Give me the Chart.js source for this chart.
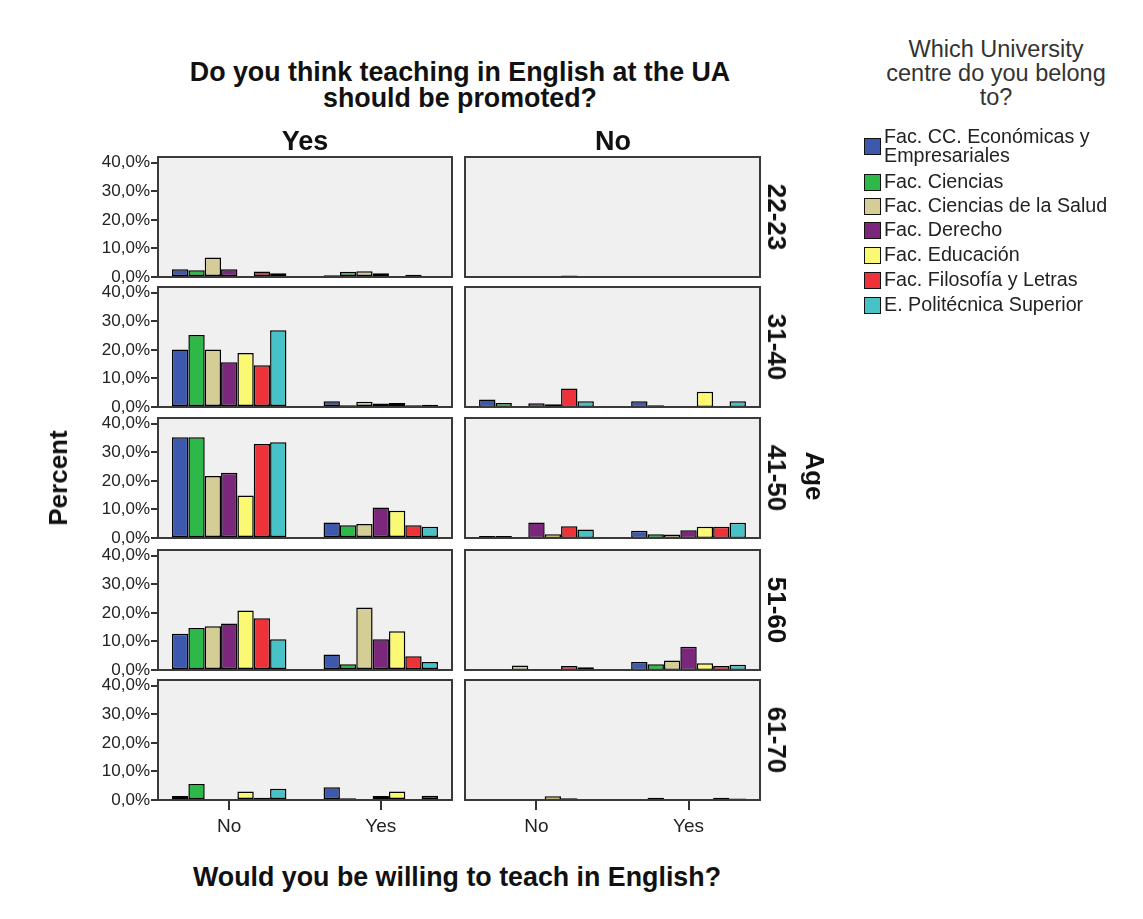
<!DOCTYPE html>
<html>
<head>
<meta charset="utf-8">
<script src="https://cdn.jsdelivr.net/npm/chart.js@4.4.0/dist/chart.umd.min.js"></script>
<style>
    body { margin: 0; background: #fff; }
    #wrap { position: relative; width: 1143px; height: 919px; background: #fff; overflow: hidden;
            font-family: "Liberation Sans", Arial, sans-serif; color: #111; }
    #wrap canvas { position: absolute; }
    .lbl { position: absolute; white-space: nowrap; transform: translate(-50%, -50%); line-height: 1; }
    .bold { font-weight: bold; }
    .rot { transform: translate(-50%, -50%) rotate(90deg); }
    .rotl { transform: translate(-50%, -50%) rotate(-90deg); }
    .sw { position: absolute; left: 864px; width: 15px; height: 15px; border: 1px solid #111; }
    .lt { position: absolute; left: 884px; white-space: nowrap; font-size: 19.7px; line-height: 19px; color: #222; }
</style>
</head>
<body>
<div id="wrap"></div>
<script>
    // categories
    var willing = ['No', 'Yes'];
    var ages = ['22-23', '31-40', '41-50', '51-60', '61-70'];
    var promoted = ['Yes', 'No'];
    var faculties = [
        'Fac. CC. Económicas y Empresariales',
        'Fac. Ciencias',
        'Fac. Ciencias de la Salud',
        'Fac. Derecho',
        'Fac. Educación',
        'Fac. Filosofía y Letras',
        'E. Politécnica Superior'
    ];
    var colors = ['#3d59ad', '#2fb84a', '#d4cd96', '#7b287c', '#fbf874', '#ee3239', '#47c2c6'];
    var yTicks = [0, 10, 20, 30, 40];

    // percent per faculty: [willing = No], [willing = Yes]
    // promoted = Yes
    var promYes2223 = [[2.7, 2.4, 6.8, 2.7, 0, 1.9, 1.3], [0.6, 1.8, 2.0, 1.3, 0, 0.8, 0]];
    var promYes3140 = [[20.1, 25.2, 20.1, 15.7, 18.9, 14.6, 26.9], [2.0, 0.6, 1.8, 1.2, 1.4, 0.6, 0.8]];
    var promYes4150 = [[35.3, 35.3, 21.7, 22.8, 14.9, 32.9, 33.5], [5.4, 4.5, 4.9, 10.7, 9.5, 4.5, 3.9]];
    var promYes5160 = [[12.7, 14.7, 15.3, 16.3, 20.8, 18.1, 10.8], [5.4, 2.0, 21.9, 10.8, 13.6, 4.8, 2.8]];
    var promYes6170 = [[1.4, 5.6, 0, 0, 3.0, 0.8, 3.9], [4.5, 0.6, 0, 1.4, 3.0, 0, 1.5]];
    // promoted = No
    var promNo2223 = [[0, 0, 0, 0, 0, 0.5, 0], [0, 0, 0, 0, 0, 0, 0]];
    var promNo3140 = [[2.6, 1.4, 0, 1.3, 1.0, 6.5, 2.0], [2.0, 0.6, 0, 0, 5.3, 0, 2.0]];
    var promNo4150 = [[0.7, 0.7, 0, 5.4, 1.3, 4.1, 3.0], [2.5, 1.3, 1.2, 2.7, 3.9, 3.9, 5.3]];
    var promNo5160 = [[0, 0, 1.6, 0, 0, 1.4, 1.0], [2.8, 2.0, 3.3, 8.1, 2.4, 1.4, 1.8]];
    var promNo6170 = [[0, 0, 0, 0, 1.3, 0.6, 0], [0, 0.8, 0, 0, 0, 0.8, 0.5]];

    var panels = [
        [promYes2223, promNo2223],
        [promYes3140, promNo3140],
        [promYes4150, promNo4150],
        [promYes5160, promNo5160],
        [promYes6170, promNo6170]
    ];

    var FONT = '"Liberation Sans", Arial, sans-serif';
    var wrap = document.getElementById('wrap');
    var rowTops = [157, 287, 418, 550, 680];
    var areaH = 120;
    var padV = 14;

    // grey panel background and dark frame
    var panelFrame = {
        id: 'panelFrame',
        beforeDraw: function(chart) {
            var a = chart.chartArea, ctx = chart.ctx;
            ctx.save();
            ctx.fillStyle = '#f0f0f0';
            ctx.fillRect(a.left, a.top, a.right - a.left, a.bottom - a.top);
            ctx.restore();
        },
        afterDatasetsDraw: function(chart) {
            var a = chart.chartArea, ctx = chart.ctx;
            ctx.save();
            ctx.strokeStyle = '#3a3a3a';
            ctx.lineWidth = 2;
            ctx.strokeRect(a.left, a.top, a.right - a.left, a.bottom - a.top);
            ctx.restore();
        }
    };

    function addText(txt, x, y, size, cls) {
        var d = document.createElement('div');
        d.className = 'lbl ' + (cls || '');
        d.style.left = x + 'px';
        d.style.top = y + 'px';
        d.style.fontSize = size + 'px';
        d.innerHTML = txt;
        wrap.appendChild(d);
        return d;
    }

    function makePanel(row, col) {
        var values = panels[row][col];
        var isLeft = col === 0;
        var isBottom = row === ages.length - 1;
        var left = isLeft ? 50 : 455;
        var width = isLeft ? 406 : 309;
        var height = padV + areaH + (isBottom ? 44 : padV);

        var canvas = document.createElement('canvas');
        canvas.width = width;
        canvas.height = height;
        canvas.style.left = left + 'px';
        canvas.style.top = (rowTops[row] - padV) + 'px';
        wrap.appendChild(canvas);

        var datasets = faculties.map(function(f, i) {
            return {
                label: f,
                data: willing.map(function(w, j) {
                    return { x: j, y: values[j][i] || null };
                }),
                backgroundColor: colors[i],
                borderColor: '#000',
                borderWidth: 1.5,
                borderSkipped: false,
                categoryPercentage: 0.755,
                barPercentage: 1.0
            };
        });

        var xScale = {
            type: 'linear',
            min: -0.47,
            max: 1.47,
            offset: false,
            display: isBottom,
            afterBuildTicks: function(axis) {
                axis.ticks = willing.map(function(w, j) { return { value: j }; });
            },
            border: { display: false },
            grid: { offset: false, drawOnChartArea: false, drawTicks: true, tickLength: 10, color: '#333', lineWidth: 2 },
            ticks: {
                autoSkip: false,
                color: '#222',
                padding: 5,
                font: { family: FONT, size: 19 },
                callback: function(v) { return willing[v]; }
            }
        };
        if (isBottom) xScale.afterFit = function(axis) { axis.height = 44; };

        var yScale = {
            min: 0,
            max: 42,
            display: isLeft,
            afterBuildTicks: function(axis) {
                axis.ticks = yTicks.map(function(v) { return { value: v }; });
            },
            border: { display: false },
            grid: { drawOnChartArea: false, drawTicks: true, tickLength: 7, color: '#333', lineWidth: 2 },
            ticks: {
                autoSkip: false,
                color: '#222',
                padding: 1,
                font: { family: FONT, size: 17 },
                callback: function(v) { return v.toFixed(1).replace('.', ',') + '%'; }
            }
        };
        if (isLeft) yScale.afterFit = function(axis) { axis.width = 108; };

        new Chart(canvas.getContext('2d'), {
            type: 'bar',
            data: { datasets: datasets },
            plugins: [panelFrame],
            options: {
                responsive: false,
                animation: false,
                devicePixelRatio: 1,
                layout: { padding: { top: padV, bottom: isBottom ? 0 : padV, left: isLeft ? 0 : 10, right: 4 } },
                plugins: { legend: { display: false }, tooltip: { enabled: false } },
                scales: { x: xScale, y: yScale }
            }
        });
    }

    for (var r = 0; r < ages.length; r++) {
        for (var c = 0; c < promoted.length; c++) {
            makePanel(r, c);
        }
        addText(ages[r], 777, rowTops[r] + areaH / 2, 26, 'bold rot');
    }

    // titles
    addText('Do you think teaching in English at the UA', 460, 72, 26.8, 'bold');
    addText('should be promoted?', 460, 98, 26.8, 'bold');
    addText(promoted[0], 305, 141, 27, 'bold');
    addText(promoted[1], 613, 141, 27, 'bold');
    addText('Percent', 58, 478, 26, 'bold rotl');
    addText('Age', 815, 476, 26, 'bold rot');
    addText('Would you be willing to teach in English?', 457, 877, 26.8, 'bold');

    // legend
    var legTitle = ['Which University', 'centre do you belong', 'to?'];
    legTitle.forEach(function(t, i) {
        addText(t, 996, 50 + i * 24, 23.5).style.color = '#333';
    });

    var legendY = [146, 182, 206, 230, 255, 280, 305];
    faculties.forEach(function(f, i) {
        var sw = document.createElement('div');
        sw.className = 'sw';
        sw.style.top = (legendY[i] - 8) + 'px';
        sw.style.background = colors[i];
        wrap.appendChild(sw);

        var t = document.createElement('div');
        t.className = 'lt';
        if (i === 0) {
            t.style.top = (legendY[i] - 19) + 'px';
            t.innerHTML = 'Fac. CC. Económicas y<br>Empresariales';
        } else {
            t.style.top = (legendY[i] - 10) + 'px';
            t.textContent = f;
        }
        wrap.appendChild(t);
    });
</script>
</body>
</html>
